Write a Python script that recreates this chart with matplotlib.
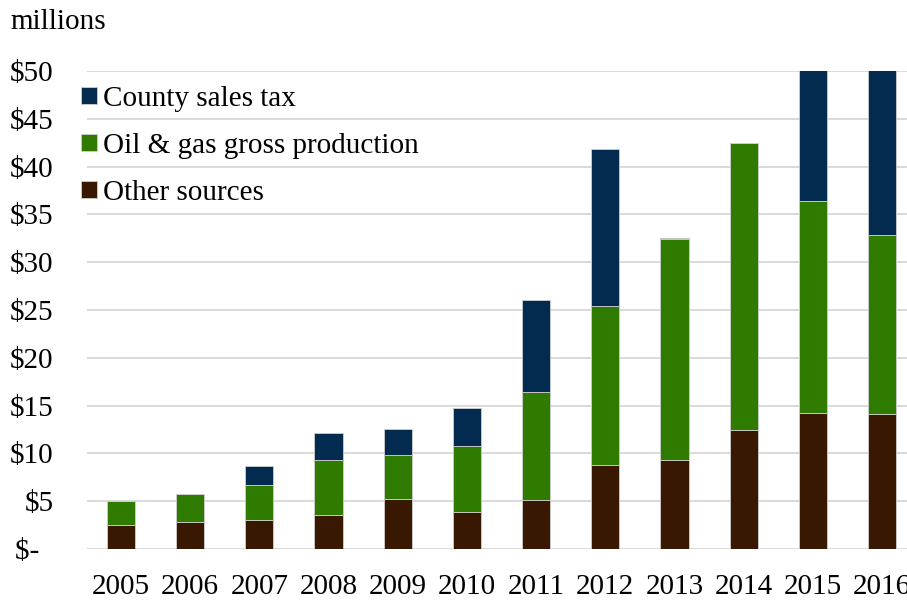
import matplotlib
matplotlib.use("Agg")
import matplotlib.pyplot as plt
import numpy as np

plt.rcParams["font.family"] = ["Liberation Serif", "DejaVu Serif"]

# Revenue by source, millions of dollars
years = ["2005", "2006", "2007", "2008", "2009", "2010",
         "2011", "2012", "2013", "2014", "2015", "2016"]
other_sources = [2.55, 2.8, 3.05, 3.6, 5.25, 3.85, 5.15, 8.8, 9.35, 12.5, 14.2, 14.1]
oil_gas = [2.5, 2.92, 3.6, 5.68, 4.6, 6.93, 11.32, 16.67, 23.1, 29.95, 22.2, 18.78]
county_sales = [0.0, 0.0, 2.03, 2.86, 2.68, 3.94, 9.53, 16.36, 0.08, 0.06, 16.0, 19.0]

ytick_vals = [0, 5, 10, 15, 20, 25, 30, 35, 40, 45, 50]
ytick_labels = ["$-  ", "$5", "$10", "$15", "$20", "$25", "$30", "$35", "$40", "$45", "$50"]

colors = {"other": "#381800", "oil": "#2e7b00", "county": "#022b4f"}

fig = plt.figure(figsize=(9.07, 6.01), dpi=100)
ax = fig.add_axes([87 / 907, 1 - 549 / 601, 820 / 907, 478 / 601])

x = np.arange(len(years))
w = 0.405
other_arr = np.array(other_sources)
oil_arr = np.array(oil_gas)
edge = dict(edgecolor="#cfcfcf", linewidth=0.6)

b1 = ax.bar(x, other_arr, w, color=colors["other"], label="Other sources", **edge)
b2 = ax.bar(x, oil_arr, w, bottom=other_arr, color=colors["oil"],
            label="Oil & gas gross production", **edge)
b3 = ax.bar(x, county_sales, w, bottom=other_arr + oil_arr, color=colors["county"],
            label="County sales tax", **edge)

ax.set_ylim(0, 50)
ax.set_xlim(-0.49, 11.36)
ax.set_yticks(ytick_vals)
ax.set_yticklabels(ytick_labels)
ax.set_xticks(x)
ax.set_xticklabels(years)

ax.tick_params(axis="y", length=0, pad=24, labelsize=21)
ax.tick_params(axis="x", length=0, pad=18, labelsize=21)

ax.grid(axis="y", color="#d9d9d9", linewidth=1.4)
ax.set_axisbelow(True)
for s in ax.spines.values():
    s.set_visible(False)

leg = ax.legend(handles=[b3, b2, b1], loc="upper left", bbox_to_anchor=(-0.021, 0.993),
                frameon=False, fontsize=21, handlelength=0.52, handleheight=0.52,
                handletextpad=0.22, labelspacing=0.72, borderaxespad=0)

fig.text(10 / 907, 1 - 22 / 601, "millions", fontsize=21, va="center", ha="left")

fig.savefig("out.png", dpi=100)
